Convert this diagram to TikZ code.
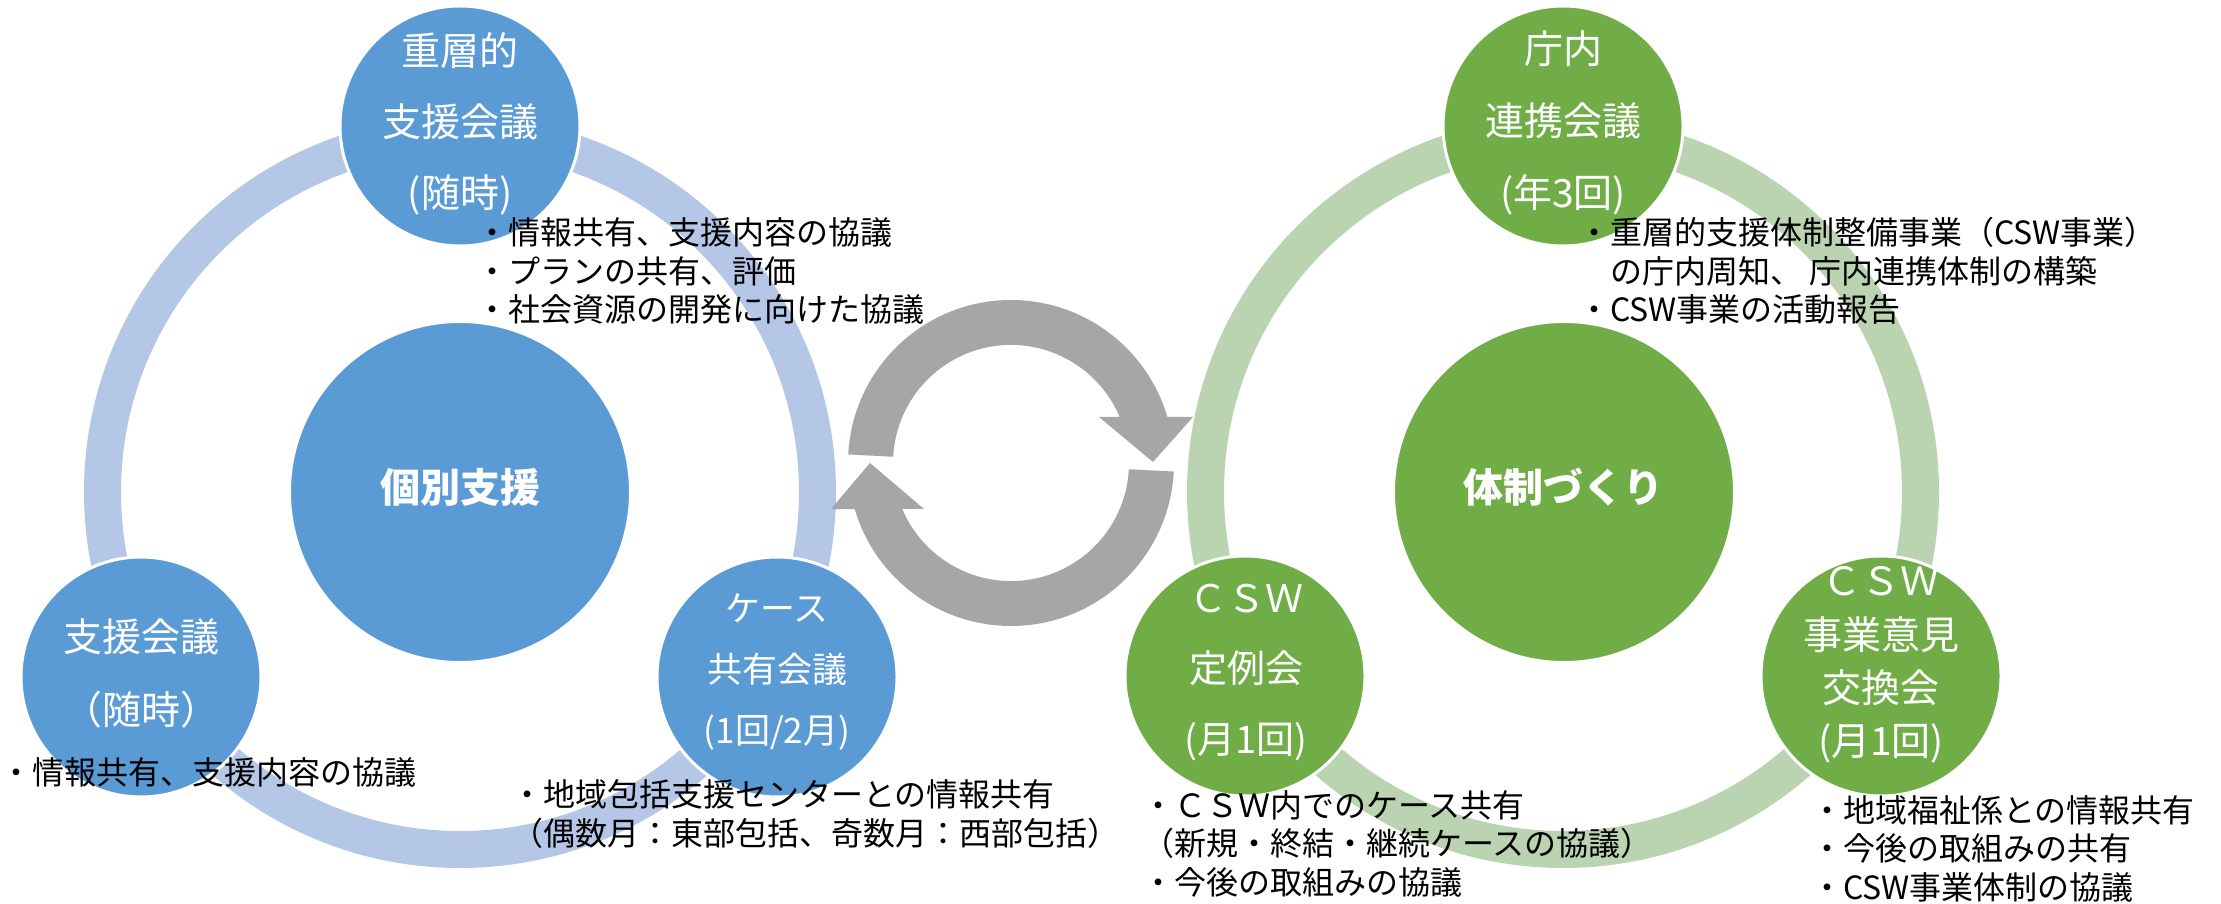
\documentclass[tikz,border=0pt]{standalone}
\usepackage{fontspec}
\setmainfont{Noto Sans CJK JP}
\definecolor{bl}{HTML}{5B9BD5}
\definecolor{blring}{HTML}{B4C7E7}
\definecolor{gr}{HTML}{70AD47}
\definecolor{grring}{HTML}{BAD3B0}
\definecolor{arr}{HTML}{A6A6A6}
\begin{document}
\begin{tikzpicture}[x=1pt,y=1pt,
  sat/.style={circle, draw=white, line width=3pt, minimum size=240pt, inner sep=0pt},
  bigc/.style={circle, draw=white, line width=3pt, minimum size=341pt, inner sep=0pt},
  wt/.style={text=white, align=center, inner sep=0pt, font=\fontsize{39}{71}\selectfont},
  note/.style={anchor=base west, align=left, inner sep=0pt, text=black, font=\fontsize{32}{38.5}\selectfont},
  ring/.style={line width=37pt}]
\useasboundingbox[fill=white] (0,0) rectangle (2221,903);
% rings
\draw[ring, blring] (460,411) circle[radius=357.5pt];
\draw[ring, grring] (1563,411) circle[radius=357.5pt];
% circular arrows
\fill[arr] (1011,440) ++(177:163pt) arc[start angle=177, end angle=16.4, radius=163pt]
  -- (1193,486) -- (1153,441) -- (1099,486) -- (1119.7,486)
  arc[start angle=22.9, end angle=177, radius=118pt] -- cycle;
\fill[arr] (1011,440) ++(-3:163pt) arc[start angle=-3, end angle=-163.6, radius=163pt]
  -- (831,394) -- (870,440) -- (924,394) -- (902.3,394)
  arc[start angle=-157.1, end angle=-3, radius=118pt] -- cycle;
% blue circles
\node[sat, fill=bl] (b1) at (460,777) {};
\node[sat, fill=bl] (b2) at (141,226) {};
\node[sat, fill=bl] (b3) at (777,226) {};
\node[bigc, fill=bl] (b0) at (460,411) {};
% green circles
\node[sat, fill=gr] (g1) at (1563,777) {};
\node[sat, fill=gr] (g2) at (1245,227) {};
\node[sat, fill=gr] (g3) at (1881,227) {};
\node[bigc, fill=gr] (g0) at (1564,411) {};
% circle texts
\node[wt] (tb1) at (460,779) {重層的\\支援会議\\(随時)};
\node[wt, font=\fontsize{39}{73}\selectfont] (tb2) at (141,230) {支援会議\\（随時）};
\node[wt, font=\fontsize{35}{61}\selectfont] (tb3) at (777,230.5) {ケース\\共有会議\\(1回/2月)};
\node[wt, font=\bfseries\fontsize{40}{48}\selectfont] (tb0) at (460,416) {個別支援};
\node[wt, font=\fontsize{39}{72}\selectfont] (tg1) at (1563,780) {庁内\\連携会議\\(年3回)};
\node[wt, font=\fontsize{38}{70.5}\selectfont] (tg2) at (1246,230.5) {ＣＳＷ\\定例会\\(月1回)};
\node[wt, font=\fontsize{39}{53.3}\selectfont] (tg3) at (1881,238) {ＣＳＷ\\事業意見\\交換会\\(月1回)};
\node[wt, font=\bfseries\fontsize{40}{48}\selectfont] (tg0) at (1563,416) {体制づくり};
% notes (anchor = baseline of last line)
\node[note] (n1) at (476,581) {・情報共有、支援内容の協議\\・プランの共有、評価\\・社会資源の開発に向けた協議};
\node[note] (n2) at (0,119) {・情報共有、支援内容の協議};
\node[note] (n3) at (511,58) {・地域包括支援センターとの情報共有\\（偶数月：東部包括、奇数月：西部包括）};
\node[note] (n4) at (1578,581) {・重層的支援体制整備事業（CSW事業）\\\hspace*{1em}の庁内周知、 庁内連携体制の構築\\・CSW事業の活動報告};
\node[note] (n5) at (1142,9) {・ＣＳＷ内でのケース共有\\（新規・終結・継続ケースの協議）\\・今後の取組みの協議};
\node[note] (n6) at (1811,4) {・地域福祉係との情報共有\\・今後の取組みの共有\\・CSW事業体制の協議};
\end{tikzpicture}
\end{document}
